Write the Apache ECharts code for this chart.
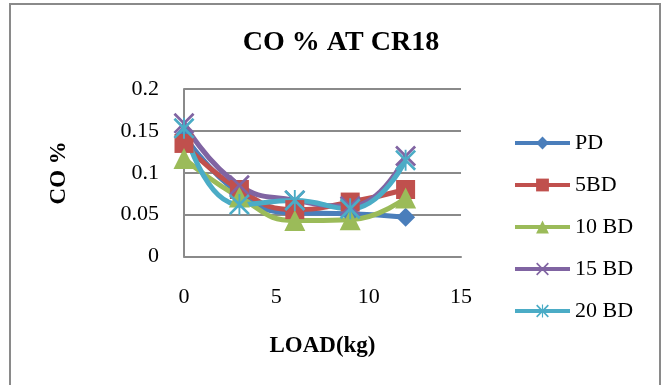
<!DOCTYPE html>
<html>
<head>
<meta charset="utf-8">
<script src="https://cdn.jsdelivr.net/npm/echarts@6/dist/echarts.min.js"></script>
<style>
  html, body { margin: 0; padding: 0; background: #fff; }
  #chart { width: 663px; height: 385px; }
</style>
</head>
<body>
<div id="chart"></div>
<script>
// Load steps (kg) and CO % readings for each fuel blend
var loads = [0, 3, 6, 9, 12];
var seriesNames = ['PD', '5BD', '10 BD', '15 BD', '20 BD'];
var pd   = [0.145, 0.075, 0.052, 0.051, 0.047];
var bd5  = [0.135, 0.080, 0.056, 0.065, 0.080];
var bd10 = [0.117, 0.071, 0.043, 0.044, 0.070];
var bd15 = [0.159, 0.085, 0.067, 0.060, 0.120];
var bd20 = [0.153, 0.062, 0.067, 0.057, 0.115];
var xTicks = [0, 5, 10, 15];
var yTicks = [0, 0.05, 0.1, 0.15, 0.2];

var colors = ['#4A7EBB', '#C0504D', '#9BBB59', '#8064A2', '#4BACC6'];
var FONT = 'Liberation Serif';

// Marker shapes: cross and asterisk as filled outlines
var crossPath = 'path://M0,1.8 L1.8,0 L20,18.2 L18.2,20 Z M18.2,0 L20,1.8 L1.8,20 L0,18.2 Z';
var starPath = 'path://M0,1.8 L1.8,0 L20,18.2 L18.2,20 Z M18.2,0 L20,1.8 L1.8,20 L0,18.2 Z M9.1,0 L10.9,0 L10.9,20 L9.1,20 Z';
var symbols = ['diamond', 'rect', 'triangle', crossPath, starPath];
var symbolSizes = [19, 19, 21, 21, 21];
var values = [pd, bd5, bd10, bd15, bd20];

function pairs(ys) {
  return loads.map(function (x, i) { return [x, ys[i]]; });
}

var series = seriesNames.map(function (name, k) {
  return {
    name: name,
    type: 'line',
    smooth: true,
    data: pairs(values[k]),
    symbol: symbols[k],
    symbolSize: symbolSizes[k],
    showAllSymbol: true,
    lineStyle: { width: 5, color: colors[k] },
    itemStyle: { color: colors[k] },
    emphasis: { disabled: true }
  };
});

var chart = echarts.init(document.getElementById('chart'), null, { renderer: 'canvas' });
chart.setOption({
  animation: false,
  backgroundColor: '#ffffff',
  color: colors,
  graphic: [{
    type: 'rect',
    shape: { x: 10, y: 4, width: 650, height: 420 },
    style: { fill: 'none', stroke: '#8a8a8a', lineWidth: 2 },
    silent: true
  }],
  title: {
    text: 'CO % AT CR18',
    left: 336,
    textAlign: 'center',
    top: 24,
    textStyle: { fontFamily: FONT, fontSize: 28, fontWeight: 'bold', color: '#000' }
  },
  legend: {
    orient: 'vertical',
    left: 508,
    top: 127,
    itemWidth: 55,
    itemHeight: 16,
    itemGap: 20,
    data: seriesNames,
    lineStyle: { width: 4 },
    textStyle: { fontFamily: FONT, fontSize: 22, color: '#000' }
  },
  grid: { left: 184, right: 202, top: 89, bottom: 128.5, containLabel: false },
  xAxis: {
    type: 'value',
    min: xTicks[0],
    max: xTicks[xTicks.length - 1],
    interval: xTicks[1] - xTicks[0],
    name: 'LOAD(kg)',
    nameLocation: 'middle',
    nameGap: 78,
    nameTextStyle: { fontFamily: FONT, fontSize: 23, fontWeight: 'bold', color: '#000' },
    axisLine: { show: true, onZero: false, lineStyle: { color: '#8a8a8a', width: 2 } },
    axisTick: { show: false },
    splitLine: { show: false },
    axisLabel: { margin: 30, fontFamily: FONT, fontSize: 22, color: '#000' }
  },
  yAxis: {
    type: 'value',
    min: yTicks[0],
    max: yTicks[yTicks.length - 1],
    interval: yTicks[1] - yTicks[0],
    name: 'CO %',
    nameLocation: 'middle',
    nameRotate: 90,
    nameGap: 113,
    nameTextStyle: { fontFamily: FONT, fontSize: 23, fontWeight: 'bold', color: '#000' },
    axisLine: { show: true, lineStyle: { color: '#8a8a8a', width: 2 } },
    axisTick: { show: false },
    splitLine: { show: true, lineStyle: { color: '#8a8a8a', width: 2 } },
    axisLabel: { margin: 25, fontFamily: FONT, fontSize: 22, color: '#000' }
  },
  series: series
});
</script>
</body>
</html>
